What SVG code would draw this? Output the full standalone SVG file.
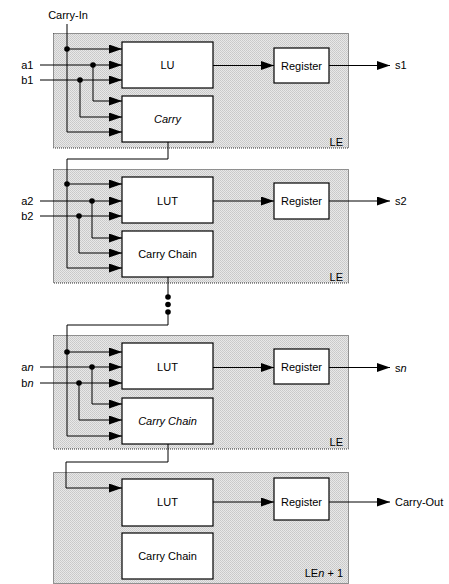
<svg xmlns="http://www.w3.org/2000/svg" width="449" height="584" viewBox="0 0 449 584">
<defs>
<pattern id="dither" width="2" height="2" patternUnits="userSpaceOnUse">
<rect width="2" height="2" fill="#e8e8e8"/>
<rect width="1" height="1" fill="#c8c8c8"/>
<rect x="1" y="1" width="1" height="1" fill="#cdcdcd"/>
</pattern>
<marker id="ah" markerWidth="13" markerHeight="9" refX="13" refY="4.5" orient="auto" markerUnits="userSpaceOnUse">
<path d="M0,0 L13,4.5 L0,9 z" fill="#000"/>
</marker>
</defs>
<style>
.le{fill:url(#dither);stroke:#333;stroke-width:1;stroke-dasharray:1 1}
.box{fill:#fff;stroke:#000;stroke-width:1.2}
.t{font-family:"Liberation Sans",Arial,sans-serif;font-size:11px;fill:#000}
.c{text-anchor:middle}
.e{text-anchor:end}
.i{font-style:italic}
.w{fill:none;stroke:#000;stroke-width:1}
.a{marker-end:url(#ah)}
.dot{fill:#000}
</style>

<!-- LE containers -->
<g id="le1"><rect class="le" x="53.5" y="33.5" width="295" height="114.5"/><text class="t e" x="343" y="146">LE</text></g>
<g id="le2"><rect class="le" x="53.5" y="169.5" width="295" height="113.5"/><text class="t e" x="343" y="281">LE</text></g>
<g id="le3"><rect class="le" x="53.5" y="335.5" width="295" height="113.5"/><text class="t e" x="343" y="446">LE</text></g>
<g id="le4"><rect class="le" x="53.5" y="472.5" width="295" height="111"/><text class="t e" x="343" y="577">LE<tspan class="i">n</tspan> + 1</text></g>

<!-- Section 1 nodes -->
<g id="lu1"><rect class="box" x="122" y="42" width="91" height="46"/><text class="t c" x="167.5" y="69">LU</text></g>
<g id="carry1"><rect class="box" x="122" y="96" width="91" height="46"/><text class="t c i" x="167.5" y="123">Carry</text></g>
<g id="reg1"><rect class="box" x="274" y="48" width="55" height="35"/><text class="t c" x="301.5" y="69.5">Register</text></g>

<!-- Section 2 nodes -->
<g id="lut2"><rect class="box" x="122" y="177" width="91" height="46"/><text class="t c" x="167.5" y="204.5">LUT</text></g>
<g id="cc2"><rect class="box" x="122" y="231" width="91" height="46"/><text class="t c" x="167.5" y="258">Carry Chain</text></g>
<g id="reg2"><rect class="box" x="274" y="183" width="55" height="36"/><text class="t c" x="301.5" y="205">Register</text></g>

<!-- Section 3 nodes -->
<g id="lut3"><rect class="box" x="122" y="343" width="91" height="46"/><text class="t c" x="167.5" y="370.5">LUT</text></g>
<g id="cc3"><rect class="box" x="122" y="398" width="91" height="46"/><text class="t c i" x="167.5" y="425">Carry Chain</text></g>
<g id="reg3"><rect class="box" x="274" y="349" width="55" height="35"/><text class="t c" x="301.5" y="370.5">Register</text></g>

<!-- Section 4 nodes -->
<g id="lut4"><rect class="box" x="122" y="479" width="91" height="47"/><text class="t c" x="167.5" y="506">LUT</text></g>
<g id="cc4"><rect class="box" x="122" y="533" width="91" height="46"/><text class="t c" x="167.5" y="560">Carry Chain</text></g>
<g id="reg4"><rect class="box" x="274" y="478" width="55" height="42"/><text class="t c" x="301.5" y="506">Register</text></g>

<!-- Labels -->
<g id="labels">
<text class="t c" x="68" y="19">Carry-In</text>
<text class="t e" x="33.5" y="69">a1</text>
<text class="t e" x="33.5" y="84">b1</text>
<text class="t" x="395" y="69">s1</text>
<text class="t e" x="33.5" y="205">a2</text>
<text class="t e" x="33.5" y="220">b2</text>
<text class="t" x="395" y="205">s2</text>
<text class="t e" x="33.5" y="371">a<tspan class="i">n</tspan></text>
<text class="t e" x="33.5" y="387">b<tspan class="i">n</tspan></text>
<text class="t" x="395" y="372">s<tspan class="i">n</tspan></text>
<text class="t" x="395" y="506">Carry-Out</text>
</g>

<!-- Connectors -->
<g id="connectors">
<!-- section 1 -->
<path class="w a" d="M67,24 V132 H122"/>
<path class="w a" d="M67,49 H122"/>
<path class="w a" d="M40,65 H122"/>
<path class="w a" d="M40,80 H122"/>
<path class="w a" d="M93,65 V101 H122"/>
<path class="w a" d="M80,80 V117 H122"/>
<path class="w a" d="M213,65.5 H274"/>
<path class="w a" d="M329,65.5 H390"/>
<circle class="dot" cx="67" cy="49" r="2.8"/>
<circle class="dot" cx="93" cy="65" r="2.8"/>
<circle class="dot" cx="80" cy="80" r="2.8"/>
<!-- carry 1 -> section 2 -->
<path class="w a" d="M168,142 V159 H67 V268 H122"/>
<path class="w a" d="M67,184 H122"/>
<path class="w a" d="M40,201 H122"/>
<path class="w a" d="M40,216 H122"/>
<path class="w a" d="M92,201 V238 H122"/>
<path class="w a" d="M79,216 V253 H122"/>
<path class="w a" d="M213,201 H274"/>
<path class="w a" d="M329,201 H390"/>
<circle class="dot" cx="67" cy="184" r="2.8"/>
<circle class="dot" cx="92" cy="201" r="2.8"/>
<circle class="dot" cx="79" cy="216" r="2.8"/>
<!-- chain 2 -> section 3 -->
<path class="w" d="M168,277 V297"/>
<circle class="dot" cx="168" cy="297" r="2.8"/>
<circle class="dot" cx="168" cy="304.5" r="2.8"/>
<circle class="dot" cx="168" cy="312" r="2.8"/>
<path class="w a" d="M168,312 V325 H67 V436 H122"/>
<path class="w a" d="M67,352 H122"/>
<path class="w a" d="M40,367 H122"/>
<path class="w a" d="M40,383 H122"/>
<path class="w a" d="M92,367 V404 H122"/>
<path class="w a" d="M79,383 V420 H122"/>
<path class="w a" d="M213,367.5 H274"/>
<path class="w a" d="M329,367.5 H390"/>
<circle class="dot" cx="67" cy="352" r="2.8"/>
<circle class="dot" cx="92" cy="367" r="2.8"/>
<circle class="dot" cx="79" cy="383" r="2.8"/>
<!-- chain 3 -> section 4 -->
<path class="w a" d="M168,444 V462 H66 V488 H122"/>
<path class="w a" d="M213,502 H274"/>
<path class="w a" d="M329,502 H390"/>
</g>
</svg>
